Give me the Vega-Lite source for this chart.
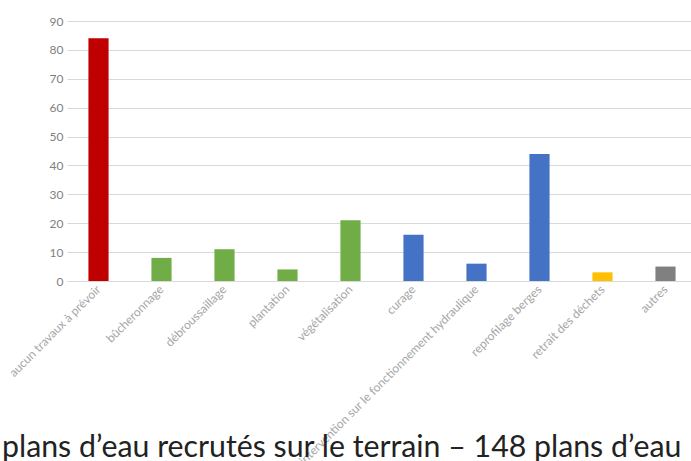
{
  "$schema": "https://vega.github.io/schema/vega-lite/v6.json",
  "width": 630,
  "height": 260,
  "autosize": {"type": "none"},
  "padding": {"left": 67, "top": 21, "right": 0, "bottom": 180},
  "background": "white",
  "title": {
    "text": "plans d’eau recrutés sur le terrain – 148 plans d’eau",
    "orient": "bottom",
    "anchor": "start",
    "frame": "group",
    "dx": -65,
    "dy": -10,
    "offset": 0,
    "font": "Lato",
    "fontSize": 30.3,
    "fontWeight": "normal",
    "color": "#222222",
    "baseline": "alphabetic"
  },
  "data": {
    "values": [
      {"cat": "aucun travaux à prévoir", "n": 84, "grp": "aucun"},
      {"cat": "bûcheronnage", "n": 8, "grp": "végétation"},
      {"cat": "débroussaillage", "n": 11, "grp": "végétation"},
      {"cat": "plantation", "n": 4, "grp": "végétation"},
      {"cat": "végétalisation", "n": 21, "grp": "végétation"},
      {"cat": "curage", "n": 16, "grp": "hydraulique"},
      {"cat": "intervention sur le fonctionnement hydraulique", "n": 6, "grp": "hydraulique"},
      {"cat": "reprofilage berges", "n": 44, "grp": "hydraulique"},
      {"cat": "retrait des déchets", "n": 3, "grp": "déchets"},
      {"cat": "autres", "n": 5, "grp": "autres"}
    ]
  },
  "mark": {"type": "bar"},
  "encoding": {
    "x": {
      "field": "cat",
      "type": "nominal",
      "sort": null,
      "title": null,
      "scale": {"paddingInner": 0.68, "paddingOuter": 0.34},
      "axis": {
        "labelAngle": -45,
        "labelAlign": "right",
        "labelBaseline": "middle",
        "labelFont": "Lato",
        "labelFontSize": 12,
        "labelColor": "#A6A6A6",
        "labelLimit": 0,
        "labelPadding": 6,
        "ticks": false,
        "domainColor": "#D9D9D9",
        "domainWidth": 1
      }
    },
    "y": {
      "field": "n",
      "type": "quantitative",
      "title": null,
      "scale": {"domain": [0, 90], "nice": false},
      "axis": {
        "values": [0, 10, 20, 30, 40, 50, 60, 70, 80, 90],
        "labelFont": "Lato",
        "labelFontSize": 12,
        "labelColor": "#7F7F7F",
        "labelPadding": 4,
        "ticks": false,
        "domain": false,
        "gridColor": "#D9D9D9",
        "gridWidth": 1
      }
    },
    "color": {
      "field": "grp",
      "type": "nominal",
      "legend": null,
      "scale": {
        "domain": ["aucun", "végétation", "hydraulique", "déchets", "autres"],
        "range": ["#C00000", "#70AD47", "#4472C4", "#FFC000", "#808080"]
      }
    }
  },
  "config": {"view": {"stroke": null}}
}
